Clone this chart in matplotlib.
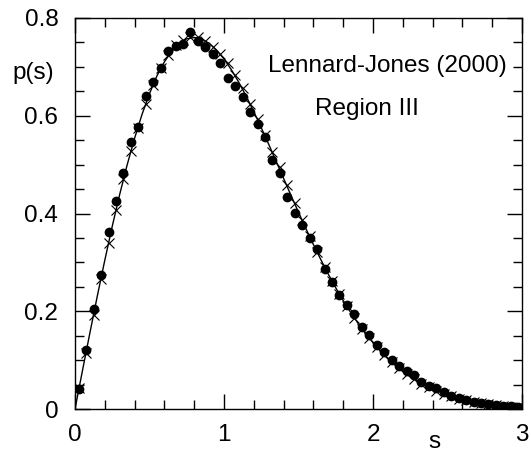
import numpy as np
import matplotlib
matplotlib.use("Agg")
import matplotlib.pyplot as plt
from matplotlib.ticker import MultipleLocator

plt.rcParams['font.family'] = ['Liberation Sans', 'DejaVu Sans']

# bin centres (width 0.05)
s_bins = [0.025 + 0.05 * k for k in range(60)]

# filled circles
p_dots = [0.040, 0.121, 0.205, 0.275, 0.363, 0.425, 0.483, 0.547, 0.577, 0.641,
          0.669, 0.697, 0.733, 0.742, 0.746, 0.772, 0.753, 0.741, 0.727, 0.708,
          0.678, 0.661, 0.639, 0.608, 0.583, 0.557, 0.509, 0.483, 0.434, 0.401,
          0.377, 0.349, 0.327, 0.286, 0.260, 0.233, 0.213, 0.195, 0.168, 0.152,
          0.131, 0.116, 0.100, 0.089, 0.078, 0.069, 0.056, 0.048, 0.042, 0.034,
          0.027, 0.022, 0.018, 0.014, 0.012, 0.010, 0.008, 0.007, 0.006, 0.005]

# crosses
p_cross = [0.042, 0.115, 0.192, 0.267, 0.339, 0.407, 0.470, 0.528, 0.575, 0.624,
           0.663, 0.697, 0.724, 0.745, 0.756, 0.761, 0.762, 0.752, 0.741, 0.727,
           0.707, 0.683, 0.656, 0.625, 0.594, 0.560, 0.526, 0.496, 0.458, 0.421,
           0.387, 0.353, 0.322, 0.291, 0.262, 0.235, 0.210, 0.186, 0.164, 0.145,
           0.127, 0.110, 0.096, 0.083, 0.071, 0.061, 0.052, 0.044, 0.037, 0.031,
           0.026, 0.021, 0.018, 0.015, 0.012, 0.010, 0.008, 0.007, 0.005, 0.004]

# solid curve
s_line = [0.05 * k for k in range(61)]
p_line = [0.0, 0.0784, 0.1558, 0.2315, 0.3044, 0.3739, 0.4391, 0.4994, 0.5541, 0.6029,
          0.6453, 0.6817, 0.7103, 0.7327, 0.7484, 0.7574, 0.7601, 0.7570, 0.7483, 0.7345,
          0.7161, 0.6939, 0.6680, 0.6393, 0.6083, 0.5755, 0.5416, 0.5068, 0.4717, 0.4369,
          0.4025, 0.3689, 0.3365, 0.3056, 0.2759, 0.2480, 0.2219, 0.1977, 0.1752, 0.1546,
          0.1358, 0.1187, 0.1033, 0.0895, 0.0772, 0.0663, 0.0567, 0.0482, 0.0409, 0.0345,
          0.0290, 0.0242, 0.0202, 0.0167, 0.0138, 0.0114, 0.0093, 0.0076, 0.0062, 0.0050,
          0.0040]

fs = 17.5

fig = plt.figure(figsize=(5.31, 4.54), dpi=100)
ax = fig.add_axes([75/531, 45/454, 447/531, 391/454])

ax.plot(s_line, p_line, color='black', lw=1.0, zorder=2)
ax.plot(s_bins, p_cross, ls='none', marker='x', ms=6.5, mew=0.8, color='black', zorder=3)
ax.plot(s_bins, p_dots, ls='none', marker='o', ms=6, color='black', zorder=4)

ax.set_xlim(0, 3)
ax.set_ylim(0, 0.8)
ax.xaxis.set_major_locator(MultipleLocator(1))
ax.xaxis.set_minor_locator(MultipleLocator(0.2))
ax.yaxis.set_major_locator(MultipleLocator(0.2))
ax.yaxis.set_minor_locator(MultipleLocator(0.05))
ax.set_xticks([0, 1, 2, 3], ['0', '1', '2', '3'])
ax.set_yticks([0, 0.2, 0.4, 0.6, 0.8], ['0', '0.2', '0.4', '0.6', '0.8'])
ax.tick_params(which='both', direction='in', top=True, right=True, labelsize=fs, width=1.0)
ax.tick_params(which='major', length=10.5)
ax.tick_params(which='minor', length=6.5)
ax.tick_params(axis='x', pad=11)
ax.tick_params(axis='y', pad=12)
for sp in ax.spines.values():
    sp.set_linewidth(1.0)

ax.text(-0.423, 0.675, 'p(s)', fontsize=fs, ha='left', va='baseline', clip_on=False)
ax.text(2.41, -0.08, 's', fontsize=fs, ha='center', va='baseline', clip_on=False)
ax.text(1.295, 0.689, 'Lennard-Jones (2000)', fontsize=fs, ha='left', va='baseline')
ax.text(1.611, 0.601, 'Region III', fontsize=fs, ha='left', va='baseline')

fig.savefig('out.png', dpi=100)
